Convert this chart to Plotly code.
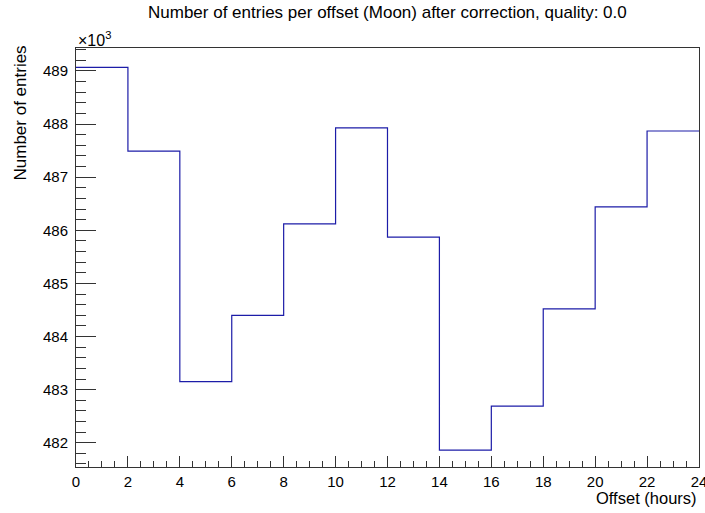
import plotly.graph_objects as go

# Histogram: number of entries per offset bin (2-hour bins from 0 to 24 h)
bin_edges = [0, 2, 4, 6, 8, 10, 12, 14, 16, 18, 20, 22, 24]
entries = [489070, 487490, 483150, 484400, 486120, 487930,
           485870, 481860, 482690, 484520, 486440, 487870]
x_tick_values = [0, 2, 4, 6, 8, 10, 12, 14, 16, 18, 20, 22, 24]
y_tick_values = [482, 483, 484, 485, 486, 487, 488, 489]

title_text = "Number of entries per offset (Moon) after correction, quality: 0.0"
x_title = "Offset (hours)"
y_title = "Number of entries"

W, H = 705, 513
L, R, T, B = 76, 6, 48, 46
pw, ph = W - L - R, H - T - B

y_scaled = [v / 1000.0 for v in entries]
fig = go.Figure()
fig.add_trace(go.Scatter(
    x=bin_edges,
    y=y_scaled + [y_scaled[-1]],
    mode="lines",
    line=dict(shape="hv", color="#1c1ca8", width=1.2),
    hoverinfo="skip",
    showlegend=False,
    cliponaxis=False,
))

font = "Liberation Sans, Arial, sans-serif"
fig.update_layout(
    width=W, height=H,
    margin=dict(l=L, r=R, t=T, b=B, pad=0, autoexpand=False),
    paper_bgcolor="white", plot_bgcolor="white",
    font=dict(family=font, size=15, color="#000000"),
    showlegend=False,
    xaxis=dict(
        range=[0, 24.0005], tickmode="array", tickvals=x_tick_values,
        ticktext=[str(v) for v in x_tick_values],
        ticks="inside", ticklen=11, tickwidth=1, tickcolor="#333333",
        minor=dict(ticks="inside", ticklen=6, dtick=0.5, tick0=0, tickcolor="#333333", tickwidth=1),
        showline=True, linecolor="#333333", linewidth=1, mirror=True,
        showgrid=False, zeroline=False,
        tickfont=dict(size=15, family=font),
        ticklabelstandoff=1,
        ticklabeloverflow="allow",
        automargin=False,
    ),
    yaxis=dict(
        range=[481.543, 489.433], tickmode="array", tickvals=y_tick_values,
        ticktext=[str(v) for v in y_tick_values],
        ticks="inside", ticklen=20, tickwidth=1, tickcolor="#333333",
        minor=dict(ticks="inside", ticklen=10, dtick=0.2, tick0=0, tickcolor="#333333", tickwidth=1),
        showline=True, linecolor="#333333", linewidth=1, mirror=True,
        showgrid=False, zeroline=False,
        tickfont=dict(size=15, family=font),
        ticklabelstandoff=4,
        automargin=False,
    ),
)

annotations = [
    dict(text=title_text, xref="paper", yref="paper",
         x=0.5, y=(H - B - 12) / ph, xanchor="center", yanchor="middle",
         showarrow=False, font=dict(size=17, family=font)),
    dict(text=x_title, xref="paper", yref="paper",
         x=1.0, y=-(498 - (H - B)) / ph, xanchor="right", yanchor="middle",
         showarrow=False, font=dict(size=16.5, family=font)),
    dict(text=y_title, xref="paper", yref="paper",
         x=(20 - L) / pw, y=((H - B) - 44) / ph, xanchor="center", yanchor="top",
         textangle=-90, showarrow=False, font=dict(size=17, family=font)),
    dict(text="×10<sup>3</sup>", xref="paper", yref="paper",
         x=0.0, y=((H - B) - 39) / ph, xanchor="left", yanchor="middle",
         showarrow=False, font=dict(size=16, family=font)),
]
fig.update_layout(annotations=annotations)

fig.write_html("out.html")
